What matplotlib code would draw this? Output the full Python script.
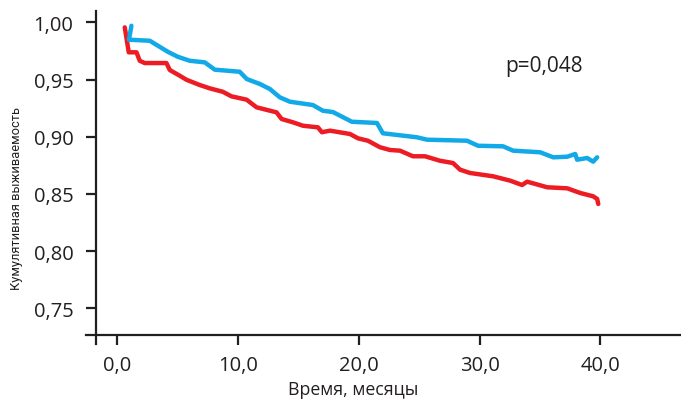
import matplotlib
matplotlib.use("Agg")
import matplotlib.pyplot as plt
from matplotlib.ticker import FuncFormatter

plt.rcParams['font.family'] = ['Open Sans', 'DejaVu Sans']

# Blue group (time in months, cumulative survival)
blue_t = [1.16, 0.96, 2.68, 4.17, 5.00, 5.99, 7.24, 8.07, 10.13, 10.72, 11.80, 12.63,
          13.46, 14.29, 16.19, 17.02, 17.85, 19.42, 21.50, 21.99, 24.81, 25.65, 28.96,
          29.87, 31.95, 32.78, 35.02, 36.10, 37.26, 37.92, 38.08, 38.91, 39.41, 39.74]
blue_s = [0.9970, 0.9848, 0.9839, 0.9743, 0.9699, 0.9664, 0.9650, 0.9586, 0.9568, 0.9504,
          0.9461, 0.9417, 0.9344, 0.9306, 0.9277, 0.9227, 0.9216, 0.9131, 0.9120, 0.9030,
          0.8995, 0.8974, 0.8965, 0.8921, 0.8916, 0.8878, 0.8864, 0.8820, 0.8825, 0.8849,
          0.8799, 0.8814, 0.8782, 0.8820]

# Red group
red_t = [0.61, 0.94, 1.58, 1.85, 2.26, 4.06, 4.34, 5.17, 5.72, 6.82, 7.65, 8.73, 9.45,
         10.70, 11.53, 13.18, 13.60, 14.54, 15.37, 16.61, 16.94, 17.60, 19.26, 19.93,
         20.75, 21.75, 22.58, 23.41, 24.48, 25.48, 26.72, 27.80, 28.38, 29.21, 31.12,
         32.53, 33.52, 33.94, 35.60, 37.26, 38.34, 39.41, 39.74, 39.83]
red_s = [0.9956, 0.9738, 0.9738, 0.9664, 0.9644, 0.9644, 0.9583, 0.9533, 0.9498, 0.9452,
         0.9423, 0.9393, 0.9353, 0.9324, 0.9257, 0.9213, 0.9155, 0.9126, 0.9096, 0.9082,
         0.9039, 0.9053, 0.9024, 0.8986, 0.8965, 0.8908, 0.8884, 0.8878, 0.8829, 0.8829,
         0.8790, 0.8770, 0.8712, 0.8683, 0.8654, 0.8616, 0.8578, 0.8607, 0.8558, 0.8549,
         0.8508, 0.8479, 0.8456, 0.8412]

x_ticks = [0, 10, 20, 30, 40]
y_ticks = [0.75, 0.80, 0.85, 0.90, 0.95, 1.00]
p_text = "p=0,048"
x_label = "Время, месяцы"
y_label = "Кумулятивная выживаемость"

TXT = '#231F20'
fig = plt.figure(figsize=(6.81, 4.02), dpi=100)
ax = fig.add_axes([0.1263, 0.1418, 0.8722, 0.8292])

ax.plot(red_t, red_s, color='#ED1C24', lw=3.2, solid_joinstyle='round', solid_capstyle='round')
ax.plot(blue_t, blue_s, color='#12A9E8', lw=3.2, solid_joinstyle='round', solid_capstyle='round')

ax.set_xlim(-2.6, 46.6)
ax.set_ylim(0.7188, 1.0102)

for s in ['top', 'right']:
    ax.spines[s].set_visible(False)
ax.spines['left'].set_position(('data', -1.8))
ax.spines['bottom'].set_position(('data', 0.727))
for s in ['left', 'bottom']:
    ax.spines[s].set_linewidth(1.6)
    ax.spines[s].set_color(TXT)

ax.set_xticks(x_ticks)
ax.set_yticks(y_ticks)
ax.xaxis.set_major_formatter(FuncFormatter(lambda v, p: f"{v:.1f}".replace('.', ',')))
ax.yaxis.set_major_formatter(FuncFormatter(lambda v, p: f"{v:.2f}".replace('.', ',')))
ax.tick_params(axis='both', direction='out', length=7, width=1.6, color=TXT,
               labelsize=14.5, labelcolor=TXT)
ax.tick_params(axis='y', pad=9)
ax.tick_params(axis='x', pad=8)

ax.text(32.1, 0.9625, p_text, fontsize=15, color=TXT, va='center', ha='left')

fig.text(0.518, 0.03, x_label, fontsize=12.8, color=TXT, ha='center', va='center')
fig.text(0.024, 0.505, y_label, fontsize=9.3, color=TXT, ha='center', va='center',
         rotation=90, family=['Roboto', 'DejaVu Sans'])

fig.savefig('out.png', dpi=100)
